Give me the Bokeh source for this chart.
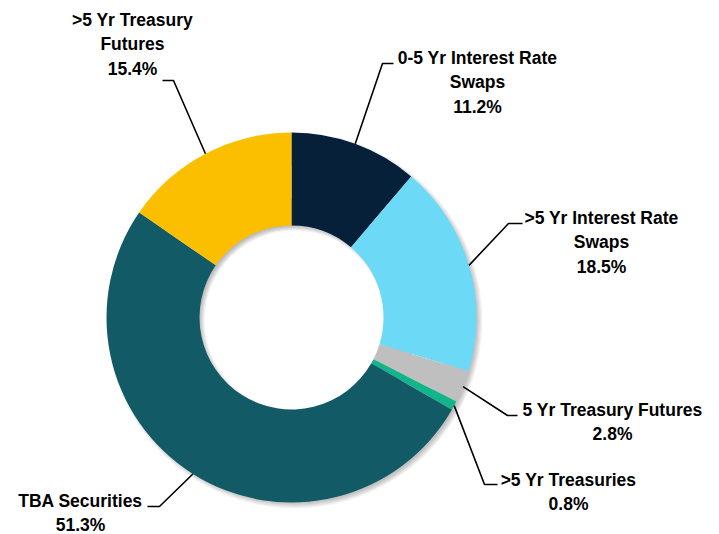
import math
from bokeh.plotting import figure
from bokeh.models import Range1d
from bokeh.core.properties import value
from bokeh.embed import file_html
from bokeh.resources import INLINE

# ---- data ----
categories = ["0-5 Yr Interest Rate Swaps", ">5 Yr Interest Rate Swaps", "5 Yr Treasury Futures",
              ">5 Yr Treasuries", "TBA Securities", ">5 Yr Treasury Futures"]
shares = [11.2, 18.5, 2.8, 0.8, 51.3, 15.4]
label_lines = [["0-5 Yr Interest Rate", "Swaps", "11.2%"],
               [">5 Yr Interest Rate", "Swaps", "18.5%"],
               ["5 Yr Treasury Futures", "2.8%"],
               [">5 Yr Treasuries", "0.8%"],
               ["TBA Securities", "51.3%"],
               [">5 Yr Treasury", "Futures", "15.4%"]]
colors = ["#06203a", "#6cdaf7", "#bfbfbf", "#12b58a", "#125a66", "#fcbf00"]

# ---- layout (screen px) ----
W, H = 719, 534
CX, CY = 291, 317          # donut centre in page coordinates
R_OUT, R_IN = 185, 92
label_pos = [(477, 57), (601, 217), (612, 409), (568, 479), (80, 500), (132, 19)]
elbows = [((382, 63), (393, 63)), ((508, 223), (522, 223)), ((507, 415), (517, 415)),
          ((484, 484), (497, 484)), ((159, 506), (147, 506)), ((173, 80), (162, 80))]
LINE_H = 24.5
FONT = "Liberation Sans"

def dx(X):
    return X - CX

def dy(Y):
    return CY - Y

p = figure(width=W, height=H, output_backend="svg", toolbar_location=None,
           x_range=Range1d(-CX, W - CX), y_range=Range1d(CY - H, CY),
           x_axis_location=None, y_axis_location=None, min_border=0)
p.grid.visible = False
p.outline_line_color = None
p.background_fill_color = "white"
p.border_fill_color = "white"

# soft drop shadow (cast down-right)
OFF = 3
for k in range(5):
    p.annular_wedge(x=OFF, y=-OFF, inner_radius=R_OUT - 30, outer_radius=R_OUT - 2 + k * 1.2,
                    start_angle=0, end_angle=2 * math.pi, color="black", alpha=0.05, line_color=None)
for k in range(5):
    p.annular_wedge(x=OFF, y=-OFF, inner_radius=R_IN - 2 + k * 1.2, outer_radius=R_IN + 30,
                    start_angle=0, end_angle=2 * math.pi, color="black", alpha=0.06, line_color=None)

# wedges
total = sum(shares)
starts, ends, mids = [], [], []
cum = 0.0
for s in shares:
    a0 = math.pi / 2 - 2 * math.pi * cum / total
    cum += s
    a1 = math.pi / 2 - 2 * math.pi * cum / total
    starts.append(a0)
    ends.append(a1)
    mids.append((a0 + a1) / 2)

p.annular_wedge(x=0, y=0, inner_radius=R_IN, outer_radius=R_OUT,
                start_angle=starts, end_angle=ends, direction="clock",
                fill_color=colors, line_color=None)

# leader lines
for m, (e1, e2) in zip(mids, elbows):
    xs = [R_OUT * math.cos(m), dx(e1[0]), dx(e2[0])]
    ys = [R_OUT * math.sin(m), dy(e1[1]), dy(e2[1])]
    p.line(xs, ys, line_color="black", line_width=1.6)

# labels
for lines, (lx, ly) in zip(label_lines, label_pos):
    xs = [dx(lx)] * len(lines)
    ys = [dy(ly + i * LINE_H) for i in range(len(lines))]
    p.text(x=xs, y=ys, text=lines, text_align="center", text_baseline="middle",
           text_font=value(FONT), text_font_style="bold", text_font_size="17.5px",
           text_color="black")

open("out.html", "w").write(file_html(p, INLINE))
